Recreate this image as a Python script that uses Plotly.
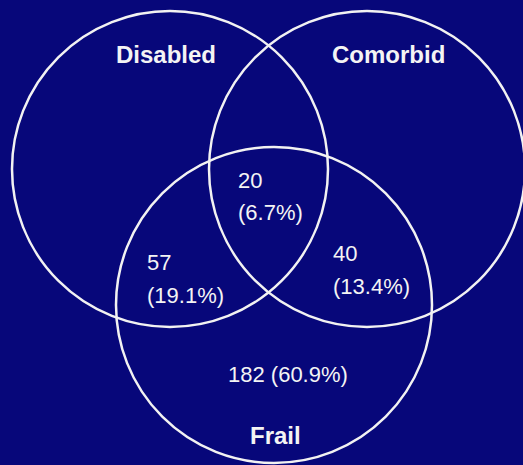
import plotly.graph_objects as go

# ---- data ----
set_names = ["Disabled", "Comorbid", "Frail"]
region_labels = ["Disabled & Comorbid & Frail", "Disabled & Frail", "Comorbid & Frail", "Frail only"]
region_counts = [20, 57, 40, 182]
region_pcts = [6.7, 19.1, 13.4, 60.9]

# ---- layout constants (pixel space) ----
W, H = 523, 465
BG = "#07077a"
LINE = "#f2f2f2"
TXT = "#f4f4f4"
FONT = "Liberation Sans, Arial, sans-serif"

circle_centers = [(170, 169), (367, 169), (274, 305)]
R = 158
set_label_pos = [(166, 54), (388, 54), (275, 435)]

fig = go.Figure()
fig.add_trace(go.Scatter(x=[0, W], y=[0, H], mode="markers",
                         marker=dict(opacity=0), hoverinfo="skip", showlegend=False))

for (cx, cy) in circle_centers:
    fig.add_shape(type="circle", xref="x", yref="y",
                  x0=cx - R, x1=cx + R, y0=cy - R, y1=cy + R,
                  line=dict(color=LINE, width=2.5))

for name, (x, y) in zip(set_names, set_label_pos):
    fig.add_annotation(x=x, y=y, text="<b>%s</b>" % name, showarrow=False,
                       xanchor="center", yanchor="middle",
                       font=dict(family=FONT, size=24, color=TXT))

# region texts: (left x, first-line center y, second-line center y)
two_line_pos = [(236, 180, 212), (145, 262, 295), (331, 253, 286)]
for i in range(3):
    x, y1, y2 = two_line_pos[i]
    fig.add_annotation(x=x, y=y1, text="%d" % region_counts[i],
                       showarrow=False, xanchor="left", yanchor="middle",
                       font=dict(family=FONT, size=22, color=TXT))
    fig.add_annotation(x=x, y=y2, text="(%.1f%%)" % region_pcts[i],
                       showarrow=False, xanchor="left", yanchor="middle",
                       font=dict(family=FONT, size=22, color=TXT))
fig.add_annotation(x=288, y=374, text="%d (%.1f%%)" % (region_counts[3], region_pcts[3]),
                   showarrow=False, xanchor="center", yanchor="middle",
                   font=dict(family=FONT, size=22, color=TXT))

fig.update_layout(
    width=W, height=H, margin=dict(l=0, r=0, t=0, b=0),
    paper_bgcolor=BG, plot_bgcolor=BG, showlegend=False,
    xaxis=dict(range=[0, W], visible=False, fixedrange=True),
    yaxis=dict(range=[H, 0], visible=False, fixedrange=True),
)
fig.write_html("out.html", config={"displayModeBar": False},
               post_script="document.body.style.margin='0';document.body.style.overflow='hidden';document.body.style.background='%s';" % BG)
